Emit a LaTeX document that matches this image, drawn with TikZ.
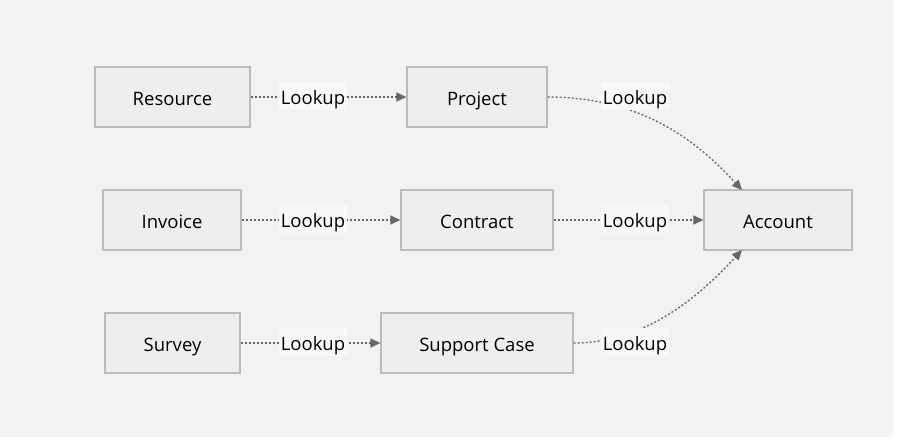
\documentclass[tikz,border=0pt]{standalone}
\usepackage{fontspec}
\setmainfont{Open Sans}
\usetikzlibrary{arrows.meta}
\definecolor{bgc}{HTML}{F2F2F2}
\definecolor{boxf}{HTML}{EEEEEE}
\definecolor{boxd}{HTML}{BBBBBB}
\definecolor{edgec}{HTML}{666666}
\definecolor{lblf}{HTML}{F8F8F8}
\begin{document}
\begin{tikzpicture}[x=1pt,y=-1pt,
  ent/.style={draw=boxd,fill=boxf,line width=1.3pt,minimum height=60pt,inner sep=0pt,text height=17pt,text depth=0pt,text=black,font=\fontsize{18.5}{20}\selectfont},
  lbl/.style={fill=lblf,inner xsep=2pt,inner ysep=0pt,minimum height=28pt,text height=16pt,text depth=0pt,text=black,font=\fontsize{18.5}{20}\selectfont},
  rel/.style={draw=edgec,line width=1.3pt,dash pattern=on 2pt off 2pt,-{Triangle[length=10pt,width=9pt]}}]
\useasboundingbox (0,0) rectangle (900,442);
\fill[white] (0,0) rectangle (900,442);
\fill[bgc,rounded corners=8pt] (-10,-10) rectangle (893,437);
\node[ent,minimum width=155pt] (res) at (172.5,97) {Resource};
\node[ent,minimum width=140pt] (proj) at (477,97) {Project};
\node[ent,minimum width=138pt] (inv) at (172,220) {Invoice};
\node[ent,minimum width=152pt] (con) at (477,220) {Contract};
\node[ent,minimum width=148pt] (acc) at (778,220) {Account};
\node[ent,minimum width=135pt] (sur) at (172.5,343) {Survey};
\node[ent,minimum width=192pt] (sc) at (477,343) {Support Case};
\coordinate (accT) at (742,190);
\coordinate (accB) at (742,250);
\draw[rel] (res) -- (proj);
\draw[rel] (inv) -- (con);
\draw[rel] (sur) -- (sc);
\draw[rel] (con) -- (acc);
\draw[rel] (proj.east) .. controls (650,97) and (705,150) .. (accT);
\draw[rel] (sc.east) .. controls (650,343) and (705,290) .. (accB);
\node[lbl] (l1) at (313,96) {Lookup};
\node[lbl] (l2) at (313,219) {Lookup};
\node[lbl] (l3) at (313,342) {Lookup};
\node[lbl] (l4) at (635,96) {Lookup};
\node[lbl] (l5) at (635,219) {Lookup};
\node[lbl] (l6) at (635,342) {Lookup};
\end{tikzpicture}
\end{document}
